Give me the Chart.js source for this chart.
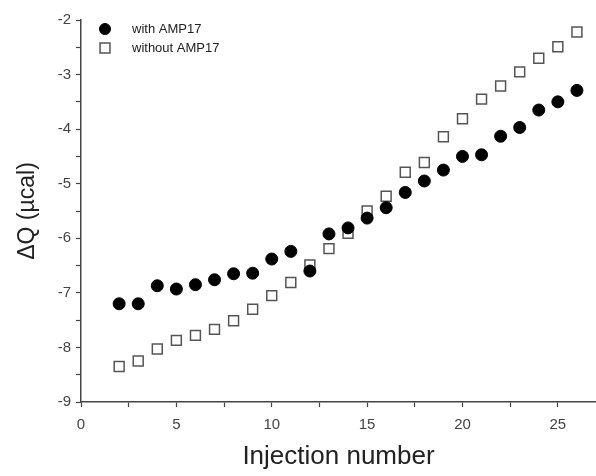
<!DOCTYPE html>
<html>
<head>
<meta charset="utf-8">
<script src="https://cdn.jsdelivr.net/npm/chart.js@4.4.0/dist/chart.umd.min.js"></script>
<style>
    html, body { margin: 0; padding: 0; background: #fff; }
    #wrap { width: 596px; height: 476px; position: relative; }
</style>
</head>
<body>
<div id="wrap"><canvas id="itc-chart"></canvas></div>
<script>
// Injection numbers and heat per injection (µcal)
const injections = [2, 3, 4, 5, 6, 7, 8, 9, 10, 11, 12, 13, 14, 15, 16, 17, 18, 19, 20, 21, 22, 23, 24, 25, 26];
const withAmp17 = [-7.20, -7.20, -6.87, -6.93, -6.85, -6.76, -6.65, -6.64, -6.38, -6.24, -6.60, -5.92, -5.81,
    -5.63, -5.44, -5.16, -4.95, -4.75, -4.50, -4.47, -4.13, -3.97, -3.65, -3.50, -3.29];
const withoutAmp17 = [-8.35, -8.25, -8.03, -7.87, -7.78, -7.67, -7.51, -7.30, -7.05, -6.81, -6.49, -6.19, -5.91,
    -5.50, -5.23, -4.79, -4.61, -4.14, -3.81, -3.45, -3.21, -2.95, -2.70, -2.49, -2.22];
const seriesLabels = ['with AMP17', 'without AMP17'];
const xTicks = [0, 5, 10, 15, 20, 25];
const yTicks = [-9, -8, -7, -6, -5, -4, -3, -2];

const toPoints = (ys) => injections.map((x, i) => ({ x: x, y: ys[i] }));

// Legend drawn inside the plot, top left
const insideLegend = {
    id: 'insideLegend',
    afterDraw(chart) {
        const ctx = chart.ctx;
        const x0 = chart.chartArea.left + 24;
        const rows = [29, 48];
        ctx.save();
        chart.data.datasets.forEach((ds, i) => {
            ctx.fillStyle = ds.pointBackgroundColor;
            ctx.strokeStyle = ds.pointBorderColor;
            ctx.lineWidth = ds.borderWidth;
            ctx.beginPath();
            if (ds.pointStyle === 'rect') {
                const s = ds.pointRadius * Math.SQRT1_2;
                ctx.rect(x0 - s, rows[i] - s, 2 * s, 2 * s);
            } else {
                ctx.arc(x0, rows[i], ds.pointRadius - 0.5, 0, Math.PI * 2);
            }
            ctx.fill();
            ctx.stroke();
            ctx.fillStyle = '#222';
            ctx.font = '13px "Liberation Sans", Arial, sans-serif';
            ctx.textBaseline = 'middle';
            ctx.fillText(ds.label, x0 + 27, rows[i]);
        });
        ctx.restore();
    }
};

const axisFont = { family: '"Liberation Sans", Arial, sans-serif', size: 15 };

new Chart(document.getElementById('itc-chart'), {
    type: 'scatter',
    data: {
        datasets: [{
            label: seriesLabels[0],
            data: toPoints(withAmp17),
            pointStyle: 'circle',
            pointRadius: 6,
            pointBackgroundColor: '#000',
            pointBorderColor: '#000',
            borderWidth: 1
        }, {
            label: seriesLabels[1],
            data: toPoints(withoutAmp17),
            pointStyle: 'rect',
            pointRadius: 7,
            pointBackgroundColor: '#fff',
            pointBorderColor: '#555',
            borderWidth: 1.5
        }]
    },
    options: {
        responsive: true,
        maintainAspectRatio: false,
        animation: false,
        events: [],
        layout: { autoPadding: false, padding: { top: 20, right: 0, left: 0, bottom: 0 } },
        plugins: {
            legend: { display: false },
            tooltip: { enabled: false }
        },
        scales: {
            x: {
                type: 'linear',
                min: 0,
                max: 27,
                afterBuildTicks: (axis) => {
                    const t = [];
                    for (let v = 0; v <= 27; v += 2.5) t.push({ value: v });
                    axis.ticks = t;
                },
                afterFit: (axis) => {
                    axis.height = 74;
                    axis.paddingRight = 0;
                },
                border: { display: true, color: '#444', width: 1.5 },
                grid: { drawOnChartArea: false, drawTicks: true, tickLength: 5, color: '#444', tickWidth: 1.2 },
                ticks: {
                    color: '#444',
                    font: axisFont,
                    padding: 9,
                    maxRotation: 0,
                    autoSkip: false,
                    callback: (v) => (xTicks.includes(v) ? String(v) : '')
                },
                title: {
                    display: true,
                    text: 'Injection number',
                    color: '#222',
                    font: { family: '"Liberation Sans", Arial, sans-serif', size: 26 },
                    padding: { top: 8, bottom: 4 }
                }
            },
            y: {
                type: 'linear',
                min: -9,
                max: -2,
                afterBuildTicks: (axis) => {
                    const t = [];
                    for (let v = -9; v <= -2; v += 0.5) t.push({ value: v });
                    axis.ticks = t;
                },
                afterFit: (axis) => { axis.width = 81; },
                border: { display: true, color: '#444', width: 1.5 },
                grid: { drawOnChartArea: false, drawTicks: true, tickLength: 5, color: '#444', tickWidth: 1.2 },
                ticks: {
                    color: '#444',
                    font: axisFont,
                    padding: 5,
                    autoSkip: false,
                    callback: (v) => (yTicks.includes(v) ? String(v) : '')
                },
                title: {
                    display: true,
                    text: 'ΔQ (µcal)',
                    color: '#222',
                    font: { family: '"Liberation Sans", Arial, sans-serif', size: 23 },
                    padding: { top: 14, bottom: 0 }
                }
            }
        }
    },
    plugins: [insideLegend]
});
</script>
</body>
</html>
